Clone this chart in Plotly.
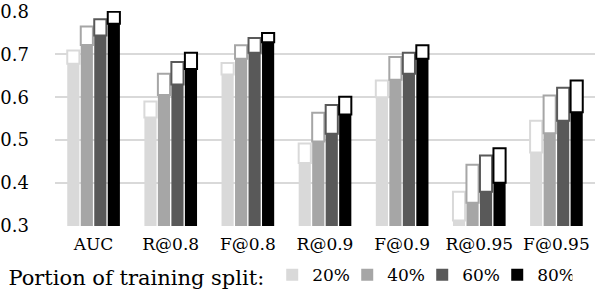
import plotly.graph_objects as go

categories = ["AUC", "R@0.8", "F@0.8", "R@0.9", "F@0.9", "R@0.95", "F@0.95"]
series_names = ["20%", "40%", "60%", "80%"]
# lower (filled) values
low_20 = [0.678, 0.553, 0.653, 0.447, 0.600, 0.313, 0.471]
low_40 = [0.722, 0.605, 0.690, 0.497, 0.641, 0.354, 0.516]
low_60 = [0.744, 0.630, 0.704, 0.515, 0.655, 0.380, 0.545]
low_80 = [0.771, 0.666, 0.728, 0.560, 0.690, 0.401, 0.565]
# upper (outlined) values
high_20 = [0.709, 0.590, 0.680, 0.492, 0.639, 0.380, 0.545]
high_40 = [0.765, 0.655, 0.721, 0.564, 0.694, 0.443, 0.604]
high_60 = [0.782, 0.682, 0.738, 0.582, 0.704, 0.464, 0.622]
high_80 = [0.799, 0.704, 0.750, 0.601, 0.721, 0.481, 0.639]

colors = ["#d9d9d9", "#a6a6a6", "#595959", "#000000"]
lows = [low_20, low_40, low_60, low_80]
highs = [high_20, high_40, high_60, high_80]

FONT = "DejaVu Serif"
fig = go.Figure()
for i, name in enumerate(series_names):
    fig.add_trace(go.Bar(
        x=categories, y=lows[i], name=name, offsetgroup=str(i),
        marker=dict(color=colors[i], line=dict(width=0)),
        showlegend=True,
    ))
    fig.add_trace(go.Bar(
        x=categories, y=[h - l for h, l in zip(highs[i], lows[i])], base=lows[i],
        name=name, offsetgroup=str(i),
        marker=dict(color="white", line=dict(color=colors[i], width=2)),
        showlegend=False,
    ))

fig.update_layout(
    width=598, height=297,
    margin=dict(l=55, r=3, t=11, b=70),
    barmode="group", bargap=0.3, bargroupgap=0.1,
    plot_bgcolor="white", paper_bgcolor="white",
    font=dict(family=FONT, color="black"),
    xaxis=dict(tickfont=dict(family=FONT, size=17), showgrid=False, showline=False,
               ticks="", automargin=False, ticklabelstandoff=6),
    yaxis=dict(range=[0.3, 0.801], tickvals=[0.3, 0.4, 0.5, 0.6, 0.7, 0.8],
               ticktext=["0.3", "0.4", "0.5", "0.6", "0.7", "0.8"],
               tickfont=dict(family=FONT, size=18), gridcolor="#d9d9d9", gridwidth=1.5,
               zeroline=False, showline=False, ticklabelstandoff=25,
               automargin=False, ticklabeloverflow="allow"),
    legend=dict(orientation="h", x=-0.09, xanchor="left", y=-0.14, yanchor="top",
                title=dict(text="Portion of training split:", font=dict(family=FONT, size=21), side="left"),
                font=dict(family=FONT, size=17), itemwidth=30, entrywidth=30,
                traceorder="normal"),
)
fig.write_html("out.html", config={"displayModeBar": False},
               post_script="document.body.style.margin='0px';")
